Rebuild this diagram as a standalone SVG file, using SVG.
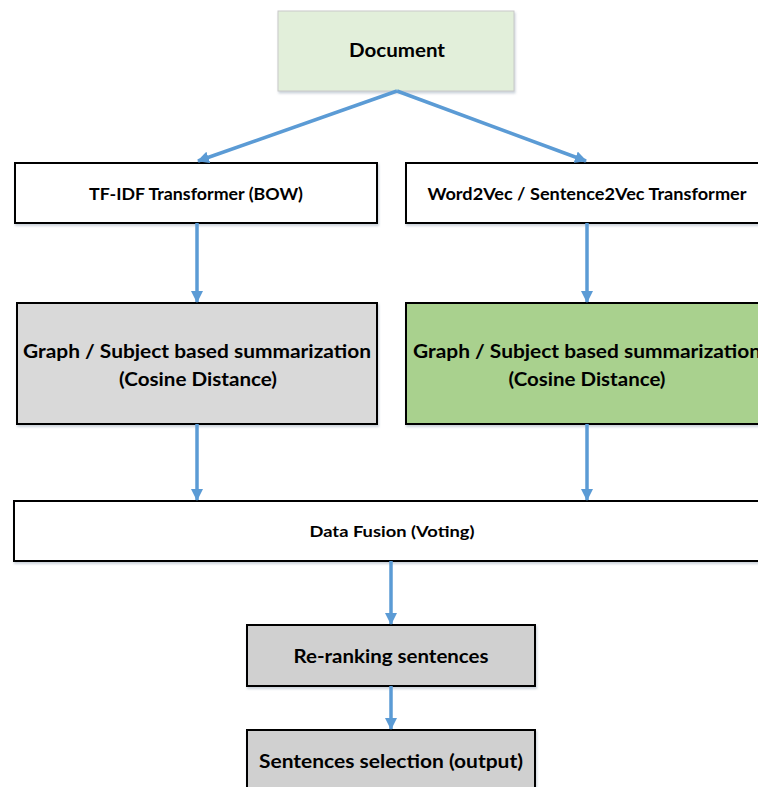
<svg xmlns="http://www.w3.org/2000/svg" width="758" height="787" viewBox="0 0 758 787">
  <defs>
    <marker id="arrow" viewBox="0 0 12 12" refX="11" refY="6" markerWidth="12" markerHeight="12" markerUnits="userSpaceOnUse" orient="auto">
      <path d="M0,0 L12,6 L0,12 Z" fill="#5b9bd5"/>
    </marker>
    <filter id="shadow" x="-5%" y="-5%" width="110%" height="120%">
      <feDropShadow dx="1" dy="2" stdDeviation="1.2" flood-color="#9aa8b8" flood-opacity="0.5"/>
    </filter>
  </defs>
  <style>
    .box { stroke: #000; stroke-width: 2; filter: url(#shadow); }
    .lbl { font-family: Lato, "Open Sans", "Liberation Sans", sans-serif; font-weight: bold; fill: #000; text-anchor: middle; }
    .edge { stroke: #5b9bd5; stroke-width: 3.5; fill: none; marker-end: url(#arrow); }
  </style>
  <rect width="758" height="787" fill="#fff"/>

  <g id="document">
    <rect x="278" y="11" width="236" height="80" fill="#e2efda" stroke="#c9c9c9" stroke-width="1" filter="url(#shadow)"/>
    <text class="lbl" x="397" y="57" font-size="18" textLength="96" lengthAdjust="spacingAndGlyphs">Document</text>
  </g>

  <g id="tfidf">
    <rect class="box" x="15" y="163" width="362" height="60" fill="#fff"/>
    <text class="lbl" x="196" y="200" font-size="17.5" textLength="214" lengthAdjust="spacingAndGlyphs">TF-IDF Transformer (BOW)</text>
  </g>

  <g id="word2vec">
    <rect class="box" x="406" y="163" width="362" height="60" fill="#fff"/>
    <text class="lbl" x="587" y="200" font-size="17.5" textLength="319" lengthAdjust="spacingAndGlyphs">Word2Vec / Sentence2Vec Transformer</text>
  </g>

  <g id="graph-bow">
    <rect class="box" x="17" y="303" width="360" height="121" fill="#d9d9d9" stroke-width="1.2"/>
    <text class="lbl" x="197" y="358" font-size="18" textLength="348" lengthAdjust="spacingAndGlyphs">Graph / Subject based summarization</text>
    <text class="lbl" x="198" y="386" font-size="18" textLength="158" lengthAdjust="spacingAndGlyphs">(Cosine Distance)</text>
  </g>

  <g id="graph-vec">
    <rect class="box" x="406" y="303" width="362" height="121" fill="#a9d18e" stroke-width="1.2"/>
    <text class="lbl" x="587" y="358" font-size="18" textLength="348" lengthAdjust="spacingAndGlyphs">Graph / Subject based summarization</text>
    <text class="lbl" x="587" y="386" font-size="18" textLength="157" lengthAdjust="spacingAndGlyphs">(Cosine Distance)</text>
  </g>

  <g id="fusion">
    <rect class="box" x="14" y="501" width="756" height="60" fill="#fff"/>
    <text class="lbl" x="392" y="537" font-size="16" textLength="165" lengthAdjust="spacingAndGlyphs">Data Fusion (Voting)</text>
  </g>

  <g id="rerank">
    <rect class="box" x="247" y="625" width="288" height="61" fill="#d0d0d0" stroke="#333" stroke-width="1.2"/>
    <text class="lbl" x="391" y="663" font-size="18" textLength="195" lengthAdjust="spacingAndGlyphs">Re-ranking sentences</text>
  </g>

  <g id="selection">
    <rect class="box" x="247" y="730" width="288" height="70" fill="#d0d0d0" stroke="#333" stroke-width="1.2"/>
    <text class="lbl" x="391" y="768" font-size="18" textLength="264" lengthAdjust="spacingAndGlyphs">Sentences selection (output)</text>
  </g>

  <g id="connectors">
    <path class="edge" d="M397,91 L198,161"/>
    <path class="edge" d="M397,91 L586,161"/>
    <path class="edge" d="M197,223 L197,302"/>
    <path class="edge" d="M587,223 L587,302"/>
    <path class="edge" d="M197,424 L197,500"/>
    <path class="edge" d="M587,424 L587,500"/>
    <path class="edge" d="M391,561 L391,624"/>
    <path class="edge" d="M391,686 L391,729"/>
  </g>
</svg>
